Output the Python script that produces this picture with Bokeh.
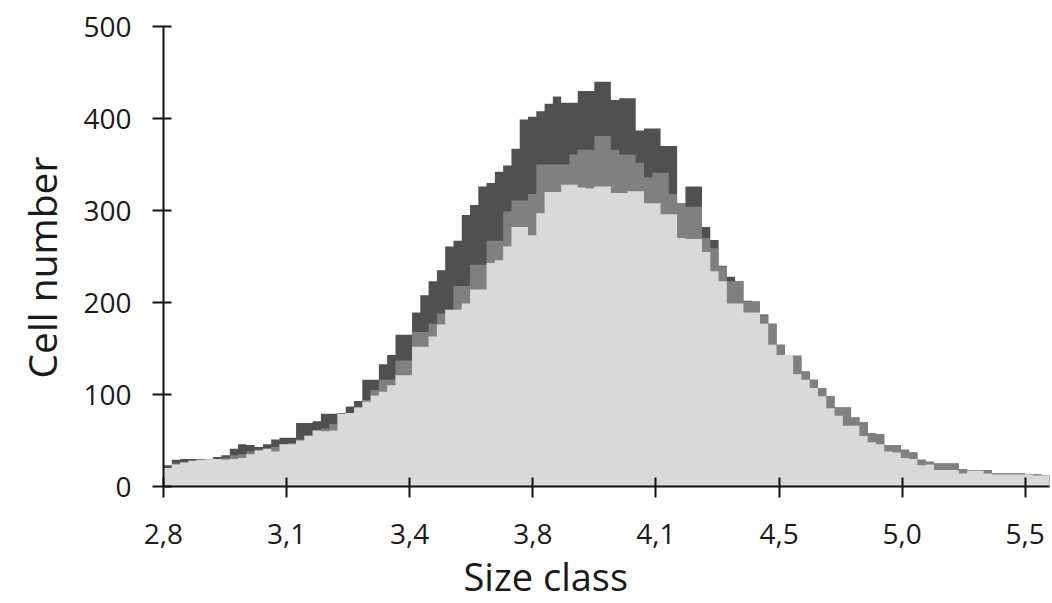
from bokeh.plotting import figure
from bokeh.models import FixedTicker, Title, Range1d
from bokeh.embed import file_html
from bokeh.resources import INLINE

# ---- data ----
tick_labels = ["2,8", "3,1", "3,4", "3,8", "4,1", "4,5", "5,0", "5,5"]
y_ticks = [0, 100, 200, 300, 400, 500]

light = [20, 24, 26, 28, 29, 29, 30, 29, 30, 31,
         35, 39, 41, 38, 46, 46, 50, 55, 61, 60,
         61, 79, 80, 86, 92, 99, 103, 110, 121, 121,
         152, 152, 163, 176, 192, 192, 199, 214, 214, 243,
         246, 261, 282, 282, 273, 297, 320, 320, 328, 328,
         325, 324, 326, 326, 319, 319, 321, 321, 308, 308,
         296, 296, 270, 269, 269, 255, 234, 223, 199, 199,
         189, 189, 177, 154, 143, 143, 122, 116, 107, 98,
         85, 77, 66, 66, 55, 48, 46, 38, 37, 31,
         30, 23, 24, 18, 18, 18, 14, 17, 17, 14,
         13, 13, 13, 13, 13, 12, 12, 12]
medium = [20, 25, 26, 28, 29, 29, 30, 31, 34, 35,
          38, 40, 41, 43, 46, 47, 51, 56, 61, 63,
          68, 79, 80, 86, 94, 105, 116, 116, 137, 137,
          168, 168, 177, 188, 192, 218, 218, 241, 241, 267,
          267, 299, 311, 311, 318, 350, 350, 350, 350, 361,
          366, 366, 381, 381, 366, 361, 361, 352, 336, 341,
          341, 318, 308, 304, 304, 270, 259, 239, 223, 223,
          201, 201, 186, 177, 154, 143, 142, 125, 116, 107,
          98, 86, 86, 75, 70, 58, 57, 45, 45, 40,
          37, 29, 27, 25, 25, 25, 19, 18, 18, 18,
          14, 14, 14, 14, 13, 13, 12, 12]
dark = [23, 29, 30, 30, 30, 29, 32, 34, 41, 46,
        45, 43, 46, 51, 53, 53, 69, 69, 71, 79,
        79, 80, 87, 93, 116, 116, 133, 143, 165, 165,
        189, 208, 223, 235, 261, 267, 295, 306, 326, 330,
        342, 349, 367, 399, 402, 408, 416, 424, 417, 417,
        430, 430, 440, 440, 420, 422, 422, 387, 389, 389,
        370, 370, 308, 326, 326, 282, 268, 240, 228, 223,
        202, 201, 187, 177, 154, 143, 142, 125, 116, 107,
        98, 86, 86, 75, 70, 58, 57, 45, 45, 40,
        37, 29, 27, 25, 25, 25, 19, 18, 18, 18,
        14, 14, 14, 14, 13, 13, 12, 12]

# ---- layout constants ----
BINS_PER_TICK = 14.86
FONT = "Open Sans"
TEXT = "#1a1a1a"

n = len(light)
edges = [i / BINS_PER_TICK for i in range(n + 1)]
zeros = [0] * (n + 1)

p = figure(width=1052, height=603, output_backend="svg", toolbar_location=None,
           x_range=Range1d(0, 7.197), y_range=Range1d(0, 500),
           min_border_left=163, min_border_right=3,
           min_border_top=26, min_border_bottom=116)

for vals, col in [(dark, "#505050"), (medium, "#808080"), (light, "#d9d9d9")]:
    p.varea_step(x=edges, y1=zeros, y2=list(vals) + [vals[-1]],
                 step_mode="after", fill_color=col)

p.xgrid.visible = False
p.ygrid.visible = False
p.outline_line_color = None
p.background_fill_color = "white"
p.border_fill_color = "white"

p.xaxis.ticker = FixedTicker(ticks=list(range(len(tick_labels))))
p.xaxis.major_label_overrides = {i: lab for i, lab in enumerate(tick_labels)}
p.yaxis.ticker = FixedTicker(ticks=y_ticks)

for ax in (p.xaxis, p.yaxis):
    ax.axis_line_width = 2
    ax.axis_line_color = "#111111"
    ax.major_tick_line_width = 2
    ax.major_tick_line_color = "#111111"
    ax.minor_tick_line_color = None
    ax.major_tick_out = 11
    ax.major_label_text_font = FONT
    ax.major_label_text_font_size = "28px"
    ax.major_label_text_color = TEXT

p.xaxis.major_tick_in = 9
p.yaxis.major_tick_in = 8
p.xaxis.major_label_standoff = 26
p.yaxis.major_label_standoff = 21

p.add_layout(Title(text="Size class", align="left", offset=300,
                   text_font=FONT, text_font_size="38px",
                   text_font_style="normal", text_color=TEXT,
                   standoff=3), "below")
p.add_layout(Title(text="Cell number", align="left", offset=108,
                   vertical_align="top",
                   text_font=FONT, text_font_size="39px",
                   text_font_style="normal", text_color=TEXT,
                   standoff=22), "left")

open("out.html", "w").write(file_html(p, INLINE))
